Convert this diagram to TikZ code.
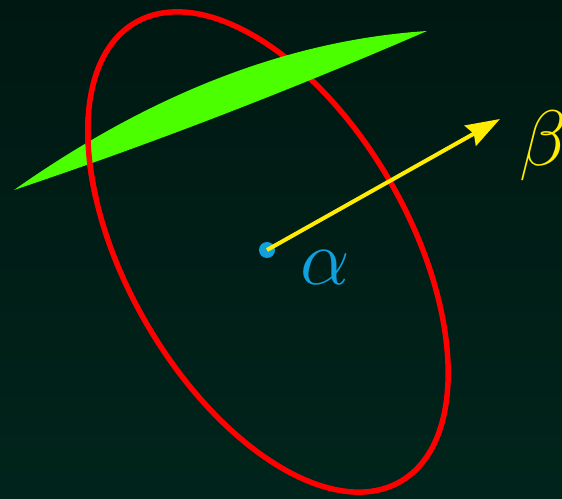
\documentclass[tikz,border=0pt]{standalone}
\usepackage{xcolor}
\usepackage{amsmath, amssymb}
\usepackage{tikz}
\usetikzlibrary{arrows.meta, positioning, calc}
\definecolor{bgtop}{RGB}{0,24,18}
\definecolor{bgbot}{RGB}{0,36,27}
\definecolor{ringred}{RGB}{255,0,0}
\definecolor{bandgreen}{RGB}{76,255,0}
\definecolor{arrowyellow}{RGB}{255,236,0}
\definecolor{dotblue}{RGB}{16,160,222}

\begin{document}
\begin{tikzpicture}[x=0.02cm, y=0.02cm, biglabel/.style={font=\Huge, scale=1.8, inner sep=0pt, anchor=base west}]
\shade[top color=bgtop, bottom color=bgbot] (0,0) rectangle (562,498);
\useasboundingbox (0,0) rectangle (562,498);
% the ring
\draw[ringred, line width=0.11cm, rotate around={120:(268,246)}] (268,246) ellipse (265 and 141);
% the green band, drawn over the ring
\fill[bandgreen] (14,308) .. controls (151.7,405) and (289.3,458) .. (427,467)
  .. controls (289.3,407.3) and (151.7,354.3) .. cycle;
% left part of the ring goes over the band again
\begin{scope}
\clip (60,300) rectangle (120,380);
\draw[ringred, line width=0.11cm, rotate around={120:(268,246)}] (268,246) ellipse (265 and 141);
\end{scope}
\node[circle, fill=dotblue, inner sep=0pt, minimum size=0.32cm] (center) at (267,248) {};
\coordinate (tip) at (500,379);
\draw[arrowyellow, line width=0.08cm, -{Stealth[length=0.68cm, width=0.46cm, inset=0.08cm]}] (center.center) -- (tip);
\node[biglabel, text=dotblue] (alpha) at (300,214) {$\alpha$};
\node[biglabel, text=arrowyellow] (beta) at (519,332) {$\beta$};
\end{tikzpicture}
\end{document}
